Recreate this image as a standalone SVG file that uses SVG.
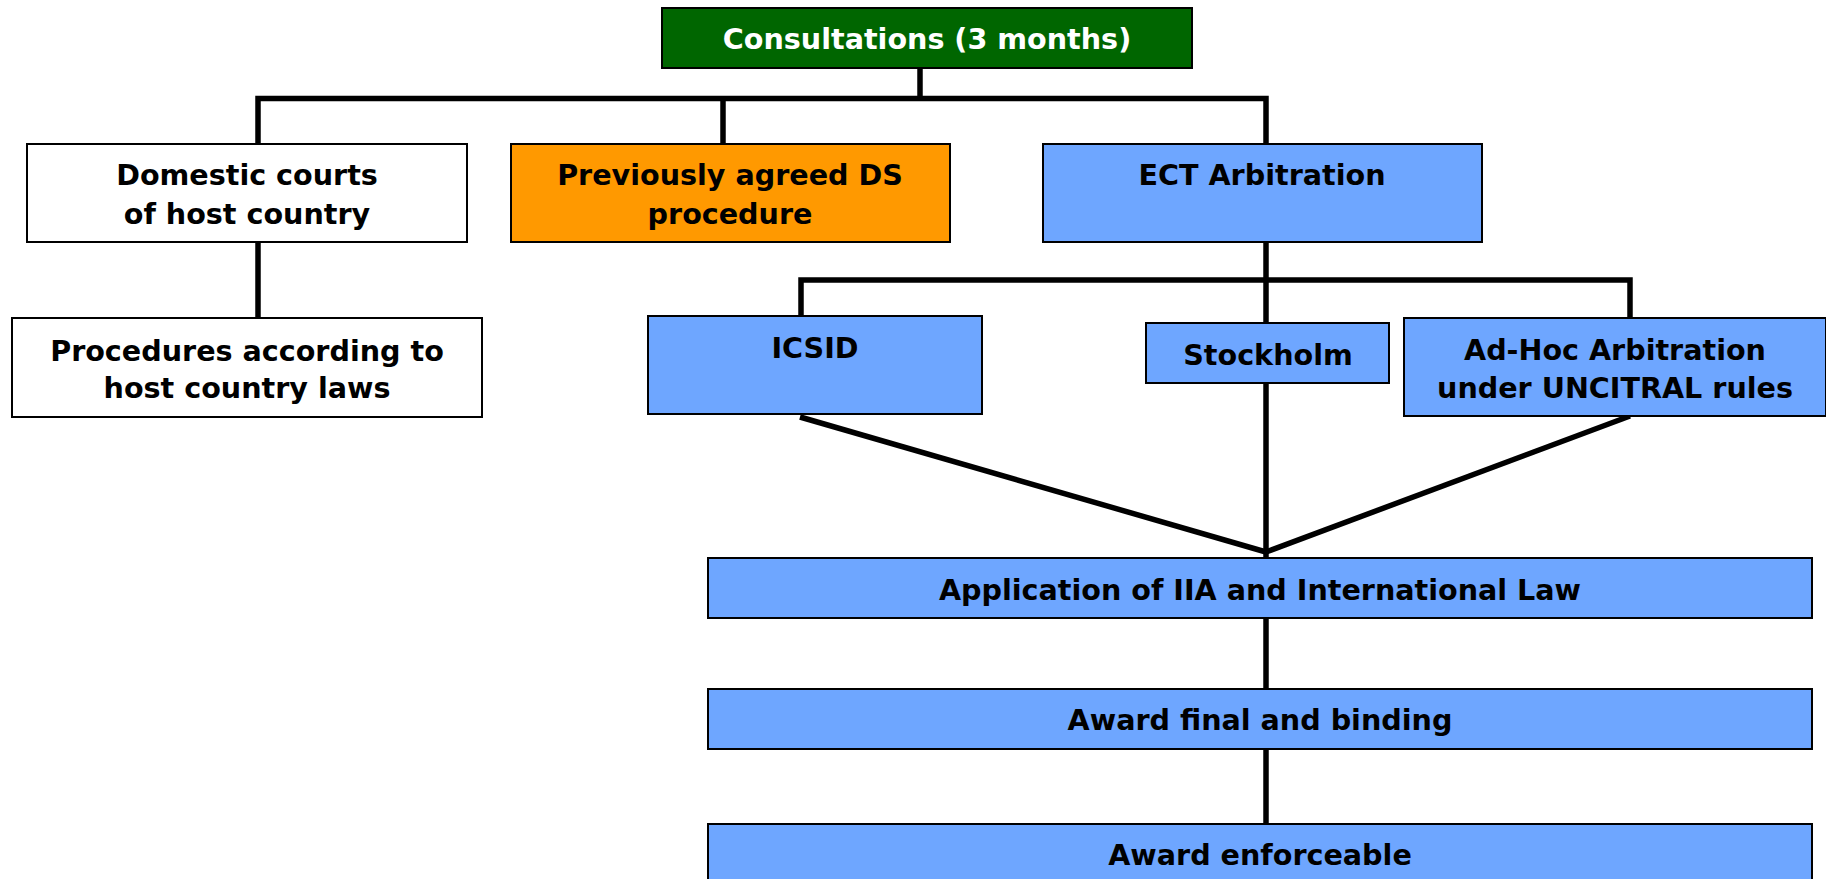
<svg xmlns="http://www.w3.org/2000/svg" width="1826" height="879" viewBox="0 0 1826 879">
<style>
.box{stroke:#000;stroke-width:2}
.blue{fill:#6EA6FF}
.white{fill:#fff}
.orange{fill:#FF9900}
.green{fill:#006600}
.t{font-family:"DejaVu Sans","Verdana",sans-serif;font-weight:bold;font-size:28.6px;text-anchor:middle;fill:#000}
.tw{fill:#fff}
.c{fill:none;stroke:#000;stroke-width:5.5}
</style>
<rect width="1826" height="879" fill="#fff"/>
<g id="connectors">
<path class="c" d="M920,68 V98.5"/>
<path class="c" d="M258,144 V98.5 H1266 V144"/>
<path class="c" d="M723,98.5 V144"/>
<path class="c" d="M258,242 V318"/>
<path class="c" d="M1266,242 V280"/>
<path class="c" d="M801,324 V280 H1630 V322"/>
<path class="c" d="M1266,280 V323"/>
<path class="c" d="M1266,383 V558"/>
<path class="c" d="M800,417 L1266,552"/>
<path class="c" d="M1630,416 L1266,552"/>
<path class="c" d="M1266,618 V689"/>
<path class="c" d="M1266,749 V824"/>
</g>
<g id="consultations">
<rect class="box green" x="662" y="8" width="530" height="60"/>
<text class="t tw" x="927" y="49">Consultations (3 months)</text>
</g>
<g id="domestic">
<rect class="box white" x="27" y="144" width="440" height="98"/>
<text class="t" x="247" y="185">Domestic courts</text>
<text class="t" x="247" y="224">of host country</text>
</g>
<g id="procedures">
<rect class="box white" x="12" y="318" width="470" height="99"/>
<text class="t" x="247" y="361">Procedures according to</text>
<text class="t" x="247" y="398">host country laws</text>
</g>
<g id="previously">
<rect class="box orange" x="511" y="144" width="439" height="98"/>
<text class="t" x="730" y="185">Previously agreed DS</text>
<text class="t" x="730" y="224">procedure</text>
</g>
<g id="ect">
<rect class="box blue" x="1043" y="144" width="439" height="98"/>
<text class="t" x="1262" y="185">ECT Arbitration</text>
</g>
<g id="icsid">
<rect class="box blue" x="648" y="316" width="334" height="98"/>
<text class="t" x="815" y="358">ICSID</text>
</g>
<g id="stockholm">
<rect class="box blue" x="1146" y="323" width="243" height="60"/>
<text class="t" x="1268" y="365">Stockholm</text>
</g>
<g id="adhoc">
<rect class="box blue" x="1404" y="318" width="422" height="98"/>
<text class="t" x="1615" y="360">Ad-Hoc Arbitration</text>
<text class="t" x="1615" y="398">under UNCITRAL rules</text>
</g>
<g id="application">
<rect class="box blue" x="708" y="558" width="1104" height="60"/>
<text class="t" x="1260" y="600">Application of IIA and International Law</text>
</g>
<g id="award-final">
<rect class="box blue" x="708" y="689" width="1104" height="60"/>
<text class="t" x="1260" y="730">Award final and binding</text>
</g>
<g id="award-enforceable">
<rect class="box blue" x="708" y="824" width="1104" height="70"/>
<text class="t" x="1260" y="865">Award enforceable</text>
</g>
</svg>
